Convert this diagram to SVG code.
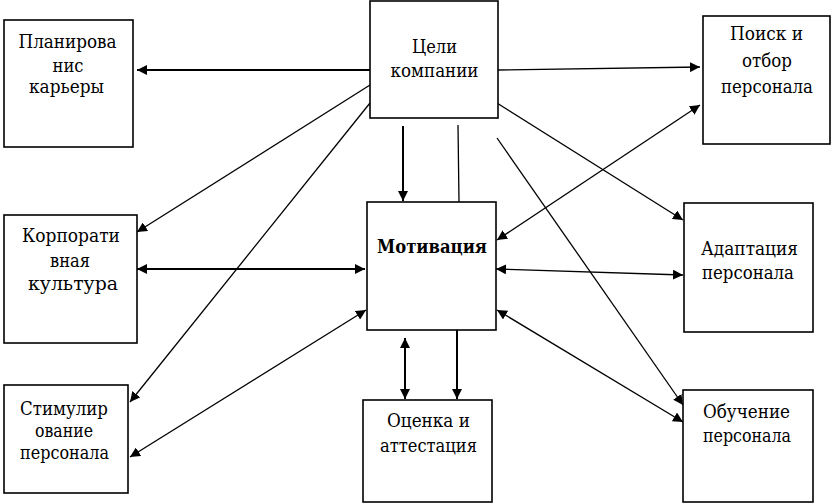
<svg xmlns="http://www.w3.org/2000/svg" width="832" height="503" viewBox="0 0 832 503">
<style>
.box{fill:#fff;stroke:#000;stroke-width:1.6}
.t{font-family:'DejaVu Serif','Liberation Serif',serif;font-size:19px;fill:#000;text-anchor:middle}
.b{font-weight:bold}
.c{stroke:#000;fill:none;stroke-width:1.3}
.h{stroke-width:2}
</style>
<defs>
<marker id="ah" viewBox="0 0 10 10" refX="10" refY="5" markerWidth="10" markerHeight="10" markerUnits="userSpaceOnUse" orient="auto-start-reverse">
<path d="M0,0 L10,5 L0,10 z" fill="#000"/>
</marker>
</defs>
<rect width="832" height="503" fill="#fff"/>
<g id="connectors">
<line class="c h" x1="370" y1="70" x2="137" y2="70" marker-end="url(#ah)"/>
<line class="c" x1="497" y1="70" x2="700" y2="67" marker-end="url(#ah)"/>
<line class="c" x1="370" y1="85" x2="137" y2="232" marker-end="url(#ah)"/>
<line class="c" x1="370" y1="103" x2="130" y2="402" marker-end="url(#ah)"/>
<line class="c" x1="497" y1="103" x2="683" y2="220" marker-end="url(#ah)"/>
<line class="c" x1="497" y1="138" x2="683" y2="405" marker-end="url(#ah)"/>
<line class="c h" x1="403" y1="126" x2="403" y2="201" marker-end="url(#ah)"/>
<line class="c" x1="458" y1="125" x2="459" y2="202"/>
<line class="c h" x1="137" y1="269" x2="365" y2="269" marker-start="url(#ah)" marker-end="url(#ah)"/>
<line class="c" x1="130" y1="457" x2="366" y2="310" marker-start="url(#ah)" marker-end="url(#ah)"/>
<line class="c" x1="497" y1="240" x2="700" y2="105" marker-start="url(#ah)" marker-end="url(#ah)"/>
<line class="c" x1="496" y1="269" x2="683" y2="275" marker-start="url(#ah)" marker-end="url(#ah)"/>
<line class="c" x1="497" y1="310" x2="683" y2="422" marker-start="url(#ah)" marker-end="url(#ah)"/>
<line class="c h" x1="405" y1="338" x2="405" y2="399" marker-start="url(#ah)" marker-end="url(#ah)"/>
<line class="c h" x1="457" y1="330" x2="457" y2="399" marker-end="url(#ah)"/>
</g>
<g id="n-planning">
<rect class="box" x="4" y="20" width="129" height="127"/>
<text class="t" x="67.5" y="48" textLength="98" lengthAdjust="spacingAndGlyphs">Планирова</text>
<text class="t" x="68" y="72" textLength="31" lengthAdjust="spacingAndGlyphs">нис</text>
<text class="t" x="66.5" y="93" textLength="75" lengthAdjust="spacingAndGlyphs">карьеры</text>
</g>
<g id="n-goals">
<rect class="box" x="370" y="1" width="128" height="117"/>
<text class="t" x="434.5" y="53" textLength="45" lengthAdjust="spacingAndGlyphs">Цели</text>
<text class="t" x="434.5" y="77" textLength="88" lengthAdjust="spacingAndGlyphs">компании</text>
</g>
<g id="n-search">
<rect class="box" x="703" y="16" width="127" height="128"/>
<text class="t" x="766.5" y="40" textLength="73" lengthAdjust="spacingAndGlyphs">Поиск и</text>
<text class="t" x="767" y="67" textLength="50" lengthAdjust="spacingAndGlyphs">отбор</text>
<text class="t" x="767" y="93" textLength="92" lengthAdjust="spacingAndGlyphs">персонала</text>
</g>
<g id="n-culture">
<rect class="box" x="4" y="215" width="133" height="128"/>
<text class="t" x="71" y="242" textLength="98" lengthAdjust="spacingAndGlyphs">Корпорати</text>
<text class="t" x="70" y="267" textLength="40" lengthAdjust="spacingAndGlyphs">вная</text>
<text class="t" x="73" y="290" textLength="90" lengthAdjust="spacingAndGlyphs">культура</text>
</g>
<g id="n-motivation">
<rect class="box" x="367" y="202" width="129" height="128"/>
<text class="t b" x="432" y="253" textLength="110" lengthAdjust="spacingAndGlyphs">Мотивация</text>
</g>
<g id="n-adaptation">
<rect class="box" x="684" y="203" width="129" height="129"/>
<text class="t" x="749.5" y="255" textLength="97" lengthAdjust="spacingAndGlyphs">Адаптация</text>
<text class="t" x="748" y="279" textLength="92" lengthAdjust="spacingAndGlyphs">персонала</text>
</g>
<g id="n-stimulation">
<rect class="box" x="4" y="385" width="124" height="108"/>
<text class="t" x="64" y="415" textLength="88" lengthAdjust="spacingAndGlyphs">Стимулир</text>
<text class="t" x="64" y="437" textLength="58" lengthAdjust="spacingAndGlyphs">ование</text>
<text class="t" x="64.5" y="459" textLength="89" lengthAdjust="spacingAndGlyphs">персонала</text>
</g>
<g id="n-assessment">
<rect class="box" x="363" y="400" width="129" height="102"/>
<text class="t" x="428.5" y="427" textLength="83" lengthAdjust="spacingAndGlyphs">Оценка и</text>
<text class="t" x="428.5" y="452" textLength="97" lengthAdjust="spacingAndGlyphs">аттестация</text>
</g>
<g id="n-training">
<rect class="box" x="683" y="390" width="130" height="112"/>
<text class="t" x="746.5" y="418" textLength="87" lengthAdjust="spacingAndGlyphs">Обучение</text>
<text class="t" x="747" y="442" textLength="88" lengthAdjust="spacingAndGlyphs">персонала</text>
</g>
</svg>
